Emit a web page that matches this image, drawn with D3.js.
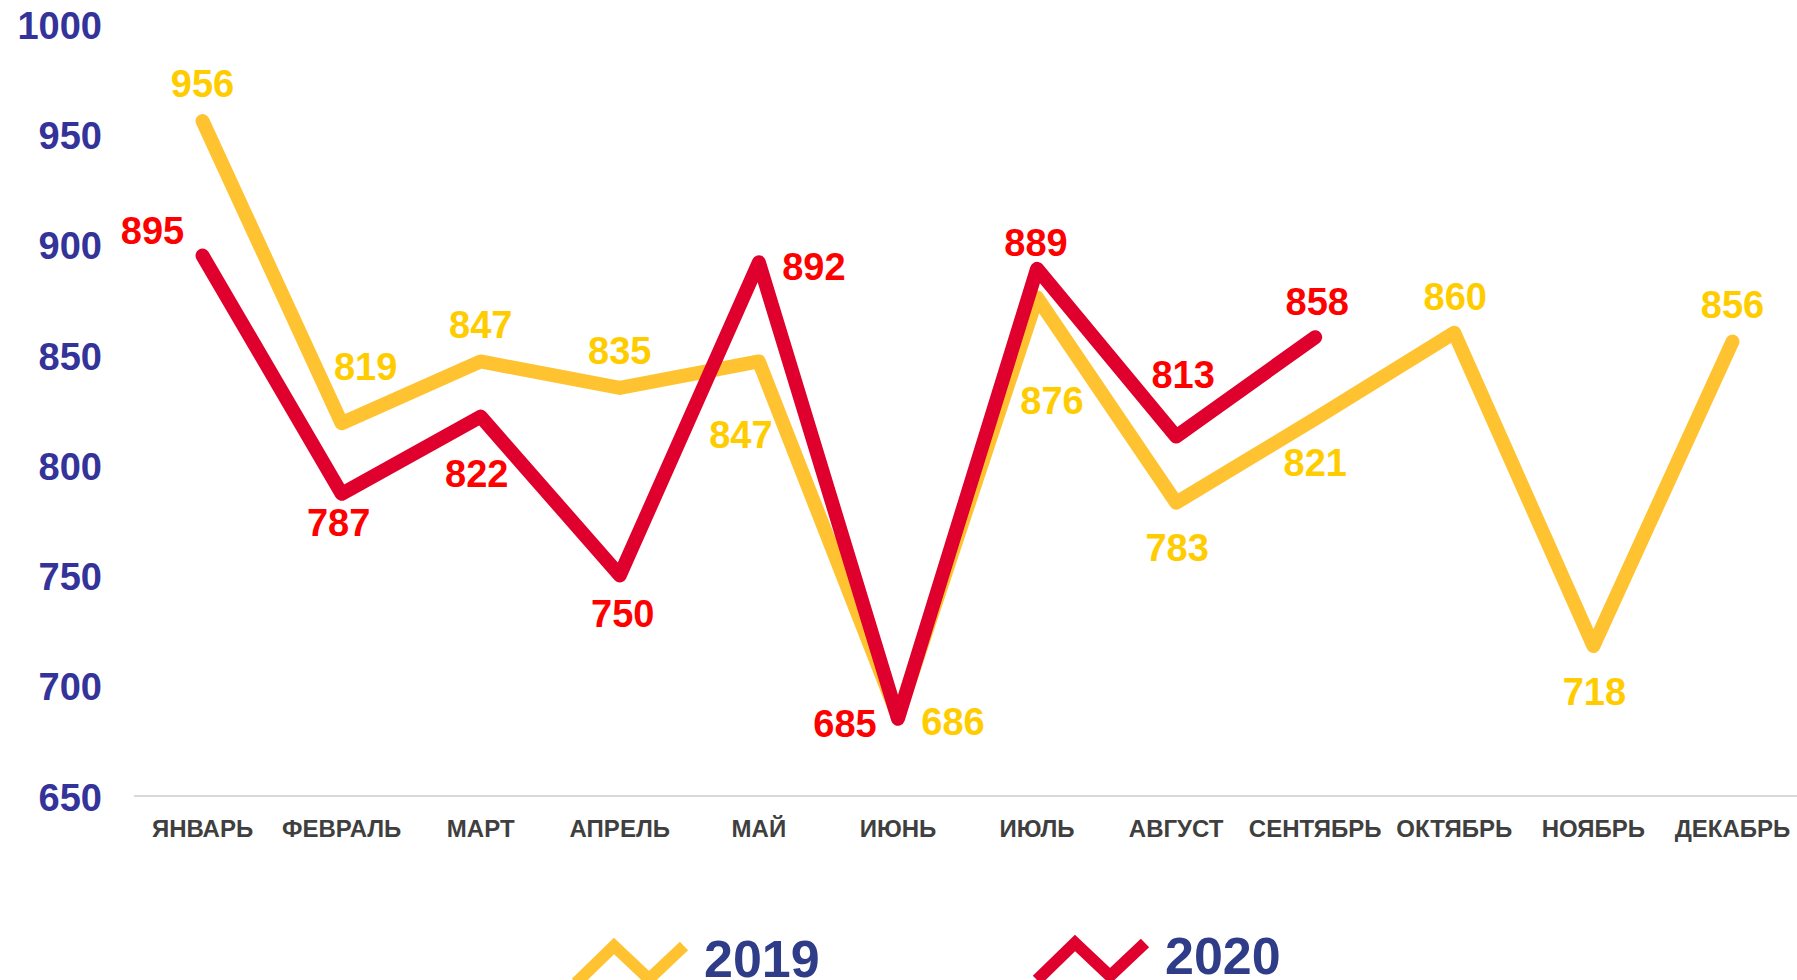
<!DOCTYPE html>
<html>
<head>
<meta charset="utf-8">
<script src="https://cdn.jsdelivr.net/npm/d3@7"></script>
<style>
  html, body { margin: 0; padding: 0; background: #ffffff; overflow: hidden; }
  svg { display: block; }
  text { font-family: Arial, "Liberation Sans", sans-serif; font-weight: bold; }
</style>
</head>
<body>
<svg id="chart" width="1797" height="980"></svg>
<script>
// ---- data ----
const months = ['ЯНВАРЬ', 'ФЕВРАЛЬ', 'МАРТ', 'АПРЕЛЬ', 'МАЙ', 'ИЮНЬ', 'ИЮЛЬ', 'АВГУСТ', 'СЕНТЯБРЬ', 'ОКТЯБРЬ', 'НОЯБРЬ', 'ДЕКАБРЬ'];
const values2019 = [956, 819, 847, 835, 847, 686, 876, 783, 821, 860, 718, 856];
const values2020 = [895, 787, 822, 750, 892, 685, 889, 813, 858];
const yTicks = [650, 700, 750, 800, 850, 900, 950, 1000];
const seriesNames = ['2019', '2020'];

// ---- layout (label nudges, in px, per point) ----
const labelOffsets2019 = [[0, -37], [24, -57], [0, -37], [0, -37], [-18, 73], [55, 5], [15, 103], [1, 45], [0, 44], [1, -36], [1, 46], [0, -37]];
const labelOffsets2020 = [[-50, -25], [-3, 29], [-4, 57], [3, 38], [55, 4], [-53, 5], [-1, -26], [7, -62], [2, -36]];

const colors = {
  line2019: '#FFC331', label2019: '#FFCC00',
  line2020: '#E0002D', label2020: '#FF0000',
  yAxis: '#333399', xAxis: '#3F3F3F', legend: '#2F3C88', grid: '#D9D9D9'
};

const svg = d3.select('#chart');

const x = d3.scaleBand().domain(months).range([133, 1802]).paddingInner(0).paddingOuter(0);
const cx = m => x(m) + x.bandwidth() / 2;
const y = d3.scaleLinear().domain([650, 1000]).range([796, 24]);

// baseline axis line
svg.append('line')
  .attr('x1', 134).attr('x2', 1797)
  .attr('y1', y(650)).attr('y2', y(650))
  .attr('stroke', colors.grid).attr('stroke-width', 2);

// y axis labels
const yAxis = d3.axisLeft(y).tickValues(yTicks).tickFormat(d3.format('d')).tickSize(0).tickPadding(0);
const gy = svg.append('g').attr('transform', 'translate(102,2)').call(yAxis);
gy.select('.domain').remove();
gy.selectAll('text')
  .attr('fill', colors.yAxis)
  .style('font-size', '38px')
  .style('font-family', 'Arial, "Liberation Sans", sans-serif')
  .style('font-weight', 'bold');

// x axis labels
const xAxis = d3.axisBottom(x).tickSize(0).tickPadding(0);
const gx = svg.append('g').attr('transform', 'translate(0,' + (829 - 8) + ')').call(xAxis);
gx.select('.domain').remove();
gx.selectAll('text')
  .attr('fill', colors.xAxis)
  .attr('dy', '0.35em')
  .attr('y', 8)
  .style('font-size', '24px')
  .style('font-family', 'Arial, "Liberation Sans", sans-serif')
  .style('font-weight', 'bold');

// lines
const line = d3.line()
  .x((d, i) => cx(months[i]))
  .y(d => y(d));

function drawSeries(values, lineColor) {
  svg.append('path')
    .datum(values)
    .attr('d', line)
    .attr('fill', 'none')
    .attr('stroke', lineColor)
    .attr('stroke-width', 14)
    .attr('stroke-linejoin', 'round')
    .attr('stroke-linecap', 'round');
}
drawSeries(values2019, colors.line2019);
drawSeries(values2020, colors.line2020);

function drawLabels(values, offsets, color) {
  svg.append('g').selectAll('text')
    .data(values)
    .join('text')
    .attr('x', (d, i) => cx(months[i]) + offsets[i][0])
    .attr('y', (d, i) => y(d) + offsets[i][1])
    .attr('dy', '0.35em')
    .attr('text-anchor', 'middle')
    .attr('fill', color)
    .style('font-size', '38px')
    .text(d => d);
}
drawLabels(values2019, labelOffsets2019, colors.label2019);
drawLabels(values2020, labelOffsets2020, colors.label2020);

// legend
const legendItems = [
  { name: seriesNames[0], color: colors.line2019, x: 572, y: 977 },
  { name: seriesNames[1], color: colors.line2020, x: 1033, y: 974 }
];
const zig = [[4, 6], [42, -31], [77, 2], [112, -31]];
legendItems.forEach(it => {
  const g = svg.append('g').attr('transform', `translate(${it.x},${it.y})`);
  g.append('path')
    .attr('d', d3.line()(zig))
    .attr('fill', 'none')
    .attr('stroke', it.color)
    .attr('stroke-width', 12)
    .attr('stroke-linejoin', 'miter')
    .attr('stroke-linecap', 'butt');
  g.append('text')
    .attr('x', 132)
    .attr('y', 0)
    .attr('fill', colors.legend)
    .style('font-size', '52px')
    .text(it.name);
});
</script>
</body>
</html>
